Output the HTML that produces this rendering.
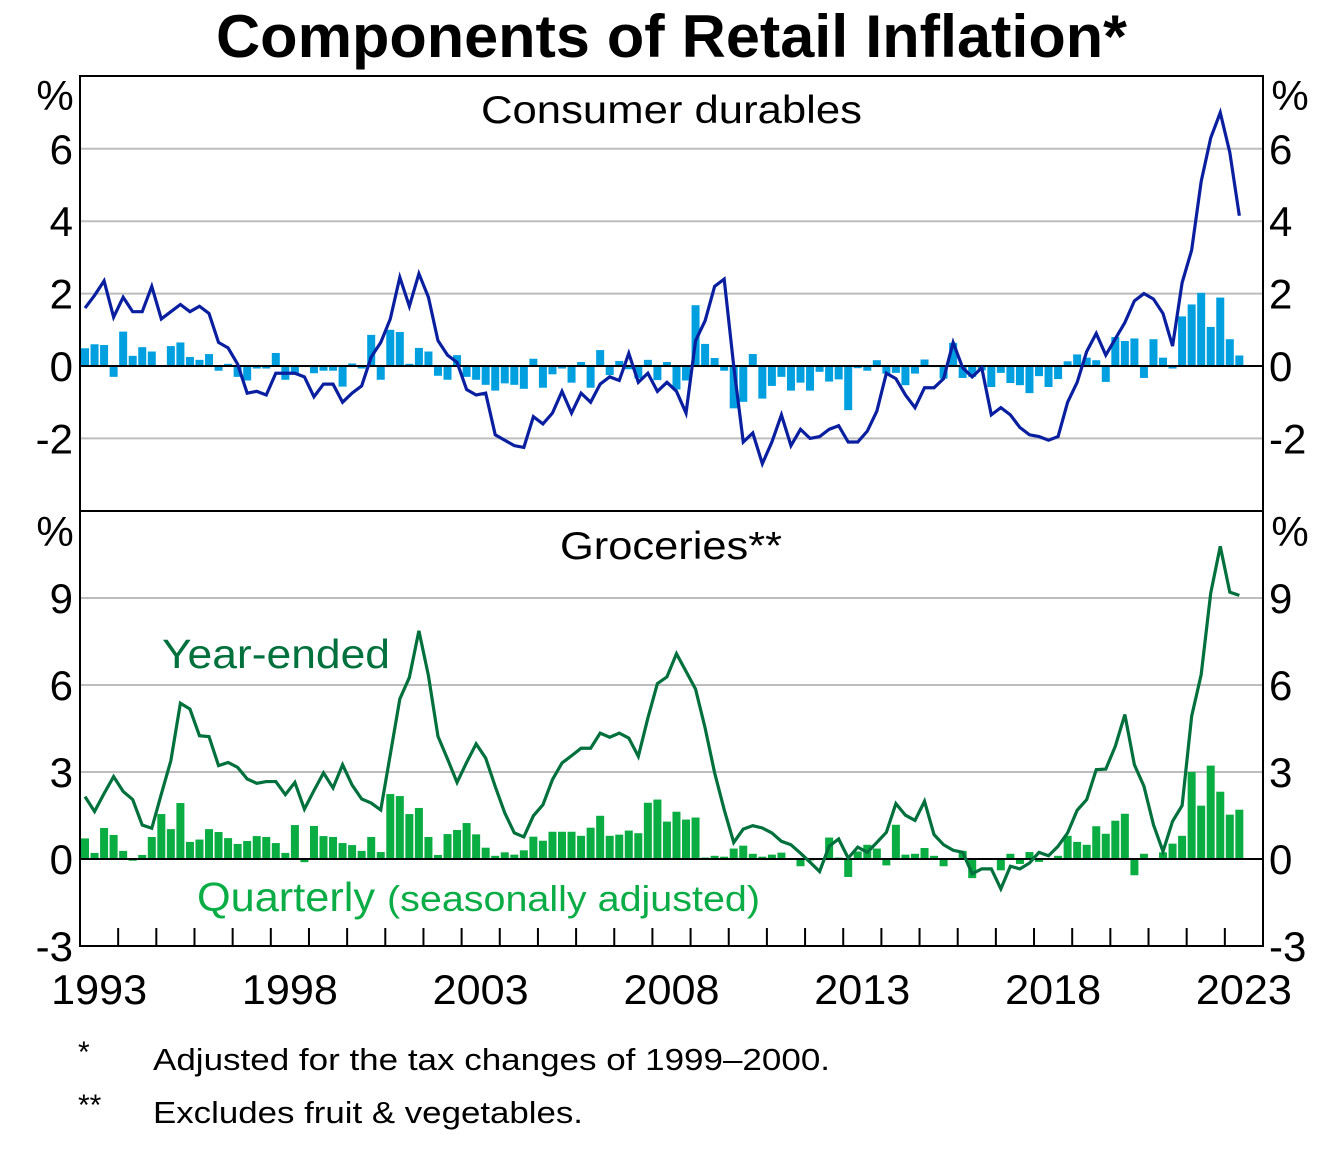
<!DOCTYPE html>
<html><head><meta charset="utf-8"><style>
html,body{margin:0;padding:0;background:#fff}
svg text{font-family:"Liberation Sans",Arial,sans-serif}
</style></head><body>
<svg id="chart" width="1324" height="1152" viewBox="0 0 1324 1152" xmlns="http://www.w3.org/2000/svg">
<text x="216" y="57" font-size="60" font-weight="bold" textLength="911" lengthAdjust="spacingAndGlyphs">Components of Retail Inflation*</text>
<g id="grid"></g>
<g id="marks"></g>
<rect x="80" y="76" width="1183" height="870" fill="none" stroke="#000" stroke-width="2"/>
<line x1="80" y1="511" x2="1263" y2="511" stroke="#000" stroke-width="2"/>
<text x="481" y="123" font-size="39" textLength="381" lengthAdjust="spacingAndGlyphs">Consumer durables</text>
<text x="560" y="559" font-size="39" textLength="222" lengthAdjust="spacingAndGlyphs">Groceries**</text>
<text x="162" y="668" font-size="41" fill="#00703c" textLength="228" lengthAdjust="spacingAndGlyphs">Year-ended</text>
<text x="197" y="911" font-size="41" fill="#0aad45" textLength="178" lengthAdjust="spacingAndGlyphs">Quarterly</text>
<text x="387" y="911" font-size="36" fill="#0aad45" textLength="373" lengthAdjust="spacingAndGlyphs">(seasonally adjusted)</text>
<g id="axes"></g>
<text x="78" y="1062" font-size="30">*</text>
<text x="153" y="1070" font-size="31" textLength="677" lengthAdjust="spacingAndGlyphs">Adjusted for the tax changes of 1999–2000.</text>
<text x="78" y="1115" font-size="30">**</text>
<text x="153" y="1123" font-size="31" textLength="430" lengthAdjust="spacingAndGlyphs">Excludes fruit &amp; vegetables.</text>
</svg>
<script>
const durablesYearEnded = [1.6,1.95,2.35,1.35,1.9,1.5,1.5,2.2,1.3,1.5,1.7,1.5,1.65,1.45,0.65,0.5,0.05,-0.75,-0.7,-0.8,-0.2,-0.2,-0.2,-0.3,-0.85,-0.5,-0.5,-1.0,-0.75,-0.55,0.25,0.65,1.3,2.45,1.65,2.55,1.9,0.7,0.3,0.1,-0.65,-0.8,
-0.75,-1.9,-2.05,-2.2,-2.25,-1.4,-1.6,-1.3,-0.7,-1.3,-0.75,-1.0,-0.5,-0.3,-0.4,0.35,-0.45,-0.2,-0.7,-0.45,-0.7,-1.3,0.7,1.25,2.2,2.4,0.0,-2.1,-1.85,-2.7,-2.1,-1.35,-2.2,-1.75,-2.0,-1.95,-1.75,-1.65,-2.1,-2.1,-1.8,
-1.25,-0.2,-0.35,-0.8,-1.15,-0.6,-0.6,-0.35,0.65,-0.05,-0.3,-0.05,-1.35,-1.15,-1.35,-1.7,-1.9,-1.95,-2.05,-1.95,-1.0,-0.45,0.4,0.9,0.3,0.75,1.2,1.8,2.0,1.85,1.45,0.55,2.3,3.2,5.1,6.3,7.0,5.9,4.15];
const durablesQuarterly = [0.49,0.6,0.58,-0.3,0.95,0.28,0.52,0.4,0.02,0.55,0.65,0.25,0.17,0.33,-0.13,0.06,-0.3,-0.4,-0.07,-0.07,0.36,-0.38,-0.2,-0.03,-0.2,-0.13,-0.13,-0.57,0.07,-0.07,0.86,-0.38,1.0,0.94,0.06,0.5,0.4,-0.27,-0.38,0.3,-0.3,-0.38,
-0.52,-0.68,-0.48,-0.52,-0.63,0.2,-0.6,-0.23,-0.07,-0.46,0.11,-0.6,0.44,-0.25,0.14,-0.09,-0.34,0.17,-0.39,0.11,-0.65,-0.4,1.68,0.61,0.22,-0.13,-1.17,-0.99,0.33,-0.9,-0.55,-0.3,-0.68,-0.46,-0.68,-0.16,-0.43,-0.37,-1.22,-0.06,-0.13,
0.16,-0.21,-0.19,-0.53,-0.21,0.18,-0.03,-0.35,0.64,-0.33,-0.3,-0.12,-0.58,-0.19,-0.47,-0.53,-0.75,-0.28,-0.58,-0.36,0.13,0.32,0.23,0.16,-0.44,0.8,0.69,0.76,-0.33,0.74,0.23,-0.07,1.37,1.7,2.02,1.08,1.89,0.74,0.29];
const groceriesYearEnded = [2.15,1.64,2.26,2.84,2.33,2.05,1.17,1.06,2.24,3.39,5.37,5.17,4.25,4.22,3.22,3.33,3.16,2.76,2.61,2.67,2.67,2.22,2.64,1.72,2.36,2.97,2.45,3.25,2.55,2.07,1.93,1.69,3.6,5.52,6.26,7.87,6.32,4.23,3.45,2.64,3.33,3.97,
3.48,2.5,1.59,0.9,0.76,1.49,1.87,2.74,3.31,3.56,3.82,3.82,4.34,4.2,4.34,4.17,3.54,4.86,6.05,6.28,7.08,6.47,5.86,4.52,2.97,1.7,0.57,1.03,1.15,1.07,0.9,0.61,0.49,0.2,-0.11,-0.43,0.44,0.69,0.03,0.41,0.23,
0.57,0.92,1.91,1.51,1.33,1.99,0.84,0.49,0.3,0.23,-0.51,-0.34,-0.34,-1.03,-0.25,-0.34,-0.14,0.23,0.11,0.44,0.9,1.68,2.05,3.08,3.1,3.89,4.98,3.25,2.51,1.18,0.26,1.3,1.84,4.92,6.36,9.17,10.78,9.2,9.09];
const groceriesQuarterly = [0.71,0.21,1.07,0.83,0.28,-0.06,0.14,0.76,1.55,1.03,1.93,0.59,0.67,1.03,0.93,0.72,0.52,0.62,0.79,0.76,0.55,0.21,1.17,-0.11,1.14,0.79,0.76,0.55,0.48,0.28,0.76,0.24,2.24,2.17,1.55,1.76,0.76,0.14,0.86,1.0,1.24,0.85,
0.39,0.11,0.23,0.15,0.3,0.77,0.63,0.94,0.94,0.94,0.8,1.08,1.49,0.8,0.84,0.98,0.89,1.94,2.05,1.29,1.63,1.36,1.43,0.05,0.11,0.08,0.36,0.46,0.18,0.08,0.15,0.22,-0.02,-0.25,-0.05,-0.02,0.74,0.05,-0.62,0.26,0.49,
0.36,-0.22,1.18,0.15,0.18,0.38,0.11,-0.25,0,0.28,-0.66,-0.02,0,-0.39,0.18,-0.17,0.24,-0.1,0,0.11,0.8,0.59,0.49,1.13,0.87,1.32,1.56,-0.56,0.18,0,0.23,0.53,0.8,3.0,1.84,3.22,2.32,1.53,1.7];
const topTicks = [-2,0,2,4,6];
const bottomTicks = [-3,0,3,6,9];
const yearLabels = [1993,1998,2003,2008,2013,2018,2023];
const firstYear = 1993, lastYear = 2023;

const NS = "http://www.w3.org/2000/svg";
const grid = document.getElementById('grid'), marks = document.getElementById('marks'), axes = document.getElementById('axes');
function mk(tag, attrs, parent){const e=document.createElementNS(NS,tag);for(const k in attrs)e.setAttribute(k,attrs[k]);parent.appendChild(e);return e;}
const xQ = i => 85 + 9.54 * i;
const xYear = y => 80 + (y - firstYear) * (1183 / (lastYear - firstYear + 1));
const yTop = v => 366 - 36.2 * v;
const yBot = v => 859 - 29 * v;

function panel(ticks, yf, bars, line, barColor, lineColor, pfx){
  ticks.forEach(t => {
    if (t !== 0 && yf(t) > 80 && yf(t) < 942) {
      const g = mk('line',{x1:80,x2:1263,y1:yf(t),y2:yf(t),stroke:'#bdbdbd','stroke-width':2},grid);
      
      
    }
    const l = mk('text',{x:73,y:yf(t)+15,'font-size':42,'text-anchor':'end'},axes);
    l.textContent = t;
    
    
    const r = mk('text',{x:1269,y:yf(t)+15,'font-size':42},axes);
    r.textContent = t;
    
    
  });
  bars.forEach((v,i) => {
    const y0 = yf(0), y1 = yf(v);
    const b = mk('rect',{x:xQ(i)-4,y:Math.min(y0,y1),width:8,height:Math.max(Math.abs(y1-y0),0.5),fill:barColor},marks);
    
    
  });
  const z = mk('line',{x1:80,x2:1263,y1:yf(0),y2:yf(0),stroke:'#000','stroke-width':2},marks);
  
  
  const p = mk('polyline',{points:line.map((v,i)=>xQ(i)+','+yf(v)).join(' '),fill:'none',stroke:lineColor,'stroke-width':3.2,'stroke-linejoin':'miter'},marks);
  
  
}
panel(topTicks, yTop, durablesQuarterly, durablesYearEnded, '#00a0e0', '#0a1f9f', 'durables');
panel(bottomTicks, yBot, groceriesQuarterly, groceriesYearEnded, '#09ad42', '#00703c', 'groceries');

[[55,110],[1290,110],[55,546],[1290,546]].forEach(([x,y]) => {
  const t = mk('text',{x:x,y:y,'font-size':42,'text-anchor':'middle'},axes);
  t.textContent = '%';
  
  
});
for (let y = firstYear + 1; y <= lastYear; y++) {
  const t = mk('line',{x1:xYear(y),x2:xYear(y),y1:946,y2:928,stroke:'#000','stroke-width':2},axes);
  
  
}
yearLabels.forEach(y => {
  const cx = (xYear(y) + xYear(y+1)) / 2;
  const t = mk('text',{x:cx-48,y:1004,'font-size':42,textLength:96,lengthAdjust:'spacingAndGlyphs'},axes);
  t.textContent = y;
  
  
});
</script>
</body></html>
